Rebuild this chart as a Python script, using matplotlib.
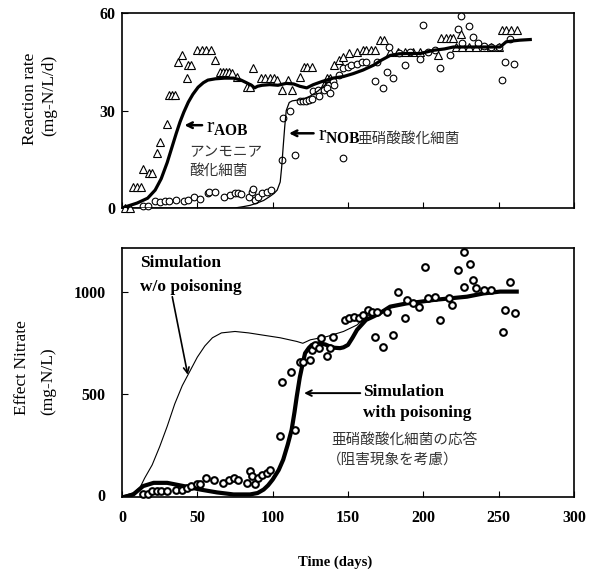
import numpy as np
import matplotlib
matplotlib.use('Agg')
import matplotlib.pyplot as plt

plt.rcParams['font.family'] = ['Liberation Serif', 'Noto Sans CJK JP']
plt.rcParams['mathtext.fontset'] = 'custom'
plt.rcParams['mathtext.rm'] = 'Liberation Serif'
plt.rcParams['mathtext.bf'] = 'Liberation Serif:bold'
plt.rcParams['mathtext.it'] = 'Liberation Serif:italic'

# --- top panel : reaction rates ---
# triangles : AOB measured
aob_day = [2, 5, 7.5, 10, 12.5, 14, 18, 20, 23, 25, 30, 31, 33, 35, 37, 40, 43, 44, 46,
           50, 53, 56, 59, 62, 65, 67, 69, 71, 73, 76, 83, 85, 87, 92, 95, 98, 101, 103,
           106, 110, 113, 118, 121, 123, 126, 134, 136, 138, 141, 144, 147, 151, 156,
           160, 162, 165, 168, 171, 174, 178, 183, 188, 193, 198, 210, 212, 215, 218,
           220, 225, 222, 226, 230, 235, 240, 245, 250, 252, 255, 258, 262]
aob_obs = [0, 0, 6.6, 6.6, 6.6, 12, 10.7, 10.7, 17, 20.4, 26, 34.8, 34.8, 34.8, 45, 47, 40,
           44, 44, 48.6, 48.6, 48.6, 48.6, 45.5, 42, 42, 42, 42, 41.5, 40.4, 37.3, 37.3,
           43, 40, 40, 40, 40, 39.5, 36.5, 39.4, 36.3, 40.2, 43.5, 43.5, 43.5, 37.8, 40,
           40, 44, 45.5, 46.5, 47.6, 48, 48.6, 48.6, 48.6, 48.6, 51.7, 51.7, 48, 48, 48,
           48, 48, 47, 52.5, 52.5, 52.5, 52.5, 53.7, 49.6, 49.6, 49.6, 49.6, 49.6, 49.6,
           49.6, 54.8, 54.8, 54.8, 54.8]

# circles : NOB measured
nob_day = [14, 17.5, 22, 25, 28.5, 31, 36, 41, 44, 48, 52, 57, 58, 62, 68, 72, 75, 77, 79,
           84, 86, 87, 88, 90, 93, 96, 99, 106, 107, 111.5, 115, 118, 120, 122, 124, 126,
           127, 130, 131, 134, 136, 138, 140, 141, 144, 147, 150, 152, 156, 159, 162,
           169, 147, 168, 173, 176, 180, 177, 184, 188, 191, 198, 203, 208, 200, 211,
           218, 223, 225, 230, 226, 233, 236, 240, 245, 250, 257.5, 254, 260, 252]
nob_obs = [0.6, 0.6, 2, 1.7, 2, 2, 2.5, 2, 2.5, 3.5, 2.7, 4.5, 4.8, 5, 3.5, 4, 4.7, 4.5,
           4.2, 3.5, 5, 5.7, 2.5, 3.5, 4.5, 5, 5.5, 14.8, 27.6, 30, 16.3, 33, 33, 33,
           33.2, 33.5, 36, 36.5, 34.5, 36.5, 37, 35.5, 39, 38, 41, 43, 43.5, 44, 44.5,
           45, 45, 45, 15.3, 39, 37, 42, 40, 49.6, 47.6, 44, 48, 46, 48, 48.6, 56.3, 43,
           47, 55, 59, 56, 50.7, 52.7, 50.7, 50, 49.6, 49.6, 52.2, 45, 44.5, 39.4]

# simulated AOB rate (thick)
aob_sim_day = [0, 2, 10, 17, 22, 26, 30, 33, 36, 38.5, 41, 44, 47, 50.5, 54, 57, 62, 68,
               74, 79, 83, 86, 88, 90, 93, 98, 103.5, 109, 114, 118, 122.6, 127, 133,
               140, 147, 153.5, 160, 167, 172, 178, 184, 189, 198, 207, 214, 220, 229,
               240, 251, 255, 260, 264, 271]
aob_sim = [0, 0.3, 1.5, 3, 5.5, 9, 14, 18.5, 23, 26.5, 29.5, 32.6, 35, 37.2, 38.6, 39.4,
           39.8, 40, 40, 39.4, 38.5, 37.8, 37, 37.5, 37.8, 38, 37.8, 38.4, 38.2, 37.5,
           37, 38, 39, 40, 40.5, 41.4, 42.5, 44, 45.5, 47, 47.5, 47.6, 47.6, 48.6, 49,
           49.6, 49.6, 49.6, 49.6, 51.2, 51.5, 51.7, 51.9]

# simulated NOB rate (thin)
nob_sim_day = [0, 40, 60, 75, 80.5, 85, 89, 94, 98, 101, 103, 105, 106, 107, 108, 109,
               111, 113, 116, 120, 125, 130, 135, 140]
nob_sim = [0, 0, 0, 0, 0.4, 0.8, 1.4, 2.3, 3.5, 4.5, 5.5, 8, 12.7, 19, 25, 30, 32.5, 33,
           33.2, 33.5, 34.5, 36, 38, 40]

# --- bottom panel : effluent nitrate ---
no3_day = [14, 17.5, 19.7, 23, 26, 30, 36, 40, 43, 46, 49.5, 52, 56, 61, 67, 71, 74, 77,
           83, 85, 86, 88, 90, 93, 96, 98, 105, 106, 112, 115, 118, 120, 125, 126, 128,
           132, 131, 136, 138, 140, 148, 151, 154, 157, 160, 163, 166, 169, 176, 168,
           173, 180, 183, 188, 189, 193, 197, 203, 208, 201, 211, 217, 219, 223, 227,
           231, 227, 233, 235, 240, 245, 257.5, 253, 254, 261]
no3_obs = [5, 5, 21, 21, 21, 21, 29, 29, 37, 46, 54, 54, 87, 78, 62, 78, 87, 78, 62, 119,
           95, 54, 87, 103, 111, 127, 291, 560, 605, 323, 658, 658, 667, 716, 740, 773,
           725, 683, 724, 781, 863, 871, 879, 871, 887, 912, 904, 904, 904, 781, 732,
           789, 1002, 871, 960, 944, 928, 969, 977, 1124, 863, 969, 936, 1108, 1198,
           1140, 1026, 1059, 1018, 1010, 1010, 1050, 805, 912, 895]

nopois_day = [0, 7.5, 12, 15, 20, 25, 30, 35, 40, 45, 50, 55, 60, 66, 75, 84, 92.7, 105,
              116, 120, 125, 136, 147, 156, 162, 173.5, 184.5, 190]
nopois = [-3, 13, 40, 85, 150, 240, 340, 450, 540, 610, 680, 735, 775, 799, 806, 799,
          789, 775, 757, 748, 765, 781, 806, 838, 879, 912, 936, 944]

pois_day = [0, 3, 7.5, 14, 21, 30, 41, 52, 63, 74, 85, 90, 94, 97, 100, 104, 107, 110,
            112.6, 114.5, 116, 118, 120, 121.5, 124, 126, 131, 135, 138, 141, 144.7, 147,
            150, 153, 156, 162, 167, 171, 178, 189, 198, 207, 218, 229, 240, 251, 262]
pois = [-10, -5, 5, 46, 62, 62, 46, 29, 15, 5, 5, 12, 29, 50, 78, 125, 176, 250, 323, 410,
        487, 580, 650, 699, 725, 740, 748, 742, 732, 726, 724, 728, 740, 775, 814, 863,
        880, 895, 928, 944, 952, 961, 969, 977, 993, 1002, 1002]

x_ticks = [0, 50, 100, 150, 200, 250, 300]

fig = plt.figure(figsize=(5.97, 5.76), dpi=100)
ax1 = fig.add_axes([0.2044, 0.639, 0.757, 0.338])
ax2 = fig.add_axes([0.2044, 0.137, 0.757, 0.432])

# top
ax1.plot(aob_day, aob_obs, linestyle='none', marker='^', markersize=6, mfc='white',
         mec='black', mew=0.8, clip_on=False, zorder=3)
ax1.plot(nob_day, nob_obs, linestyle='none', marker='o', markersize=4.8, mfc='white',
         mec='black', mew=0.8, clip_on=False, zorder=3)
ax1.plot(nob_sim_day, nob_sim, color='black', lw=0.9, zorder=4)
ax1.plot(aob_sim_day, aob_sim, color='black', lw=2.3, zorder=4)
ax1.set_xlim(0, 300)
ax1.set_ylim(0, 60)
ax1.set_yticks([0, 30, 60])
ax1.set_xticks(x_ticks)
ax1.set_xticklabels([])
ax1.tick_params(axis='y', direction='in', length=4, pad=5, labelsize=11.5)
ax1.tick_params(axis='x', direction='in', length=4)

ax1.annotate('', xy=(39.6, 25.5), xytext=(55, 25.5),
             arrowprops=dict(arrowstyle='->', lw=1.8, color='black'))
ax1.text(56, 23.3, r'r$_{\mathbf{AOB}}$', fontsize=16, va='baseline', ha='left')
ax1.text(44.5, 17.2, 'アンモニア', family='Noto Sans CJK JP', fontsize=10.5,
         color='#333333', va='center', ha='left')
ax1.text(44.5, 11.5, '酸化細菌', family='Noto Sans CJK JP', fontsize=10.5,
         color='#333333', va='center', ha='left')
ax1.annotate('', xy=(109, 23), xytext=(129, 23),
             arrowprops=dict(arrowstyle='->', lw=1.8, color='black'))
ax1.text(130, 20.8, r'r$_{\mathbf{NOB}}$', fontsize=16, va='baseline', ha='left')
ax1.text(156.5, 21.4, '亜硝酸酸化細菌', family='Noto Sans CJK JP', fontsize=10.5,
         color='#333333', va='center', ha='left')

# bottom
ax2.plot(nopois_day, nopois, color='black', lw=0.8, zorder=2)
ax2.plot(pois_day, pois, color='black', lw=3, zorder=3)
ax2.plot(no3_day, no3_obs, linestyle='none', marker='o', markersize=4.8, mfc='white',
         mec='black', mew=1.5, clip_on=False, zorder=4)
ax2.set_xlim(0, 300)
ax2.set_ylim(-8, 1215)
ax2.set_yticks([0, 500, 1000])
ax2.set_xticks(x_ticks)
ax2.tick_params(axis='y', direction='in', length=4, pad=12, labelsize=11.5)
ax2.tick_params(axis='x', direction='in', length=4, pad=9, labelsize=11.5)

ax2.text(12, 1142, 'Simulation', fontsize=12.5, fontweight='bold', va='center')
ax2.text(12, 1025, 'w/o poisoning', fontsize=12.5, fontweight='bold', va='center')
ax2.annotate('', xy=(44, 580), xytext=(33, 990),
             arrowprops=dict(arrowstyle='->', lw=1.2, color='black'))
ax2.text(160, 510, 'Simulation', fontsize=12.5, fontweight='bold', va='center')
ax2.text(160, 407, 'with poisoning', fontsize=12.5, fontweight='bold', va='center')
ax2.annotate('', xy=(119, 503), xytext=(160, 503),
             arrowprops=dict(arrowstyle='->', lw=1.4, color='black'))
ax2.text(139, 275, '亜硝酸酸化細菌の応答', family='Noto Sans CJK JP', fontsize=10.5,
         color='#333333', va='center', ha='left')
ax2.text(136, 176, '（阻害現象を考慮）', family='Noto Sans CJK JP', fontsize=10.5,
         color='#333333', va='center', ha='left')

for ax in (ax1, ax2):
    for s in ax.spines.values():
        s.set_linewidth(1.2)
    for lab in ax.get_yticklabels() + ax.get_xticklabels():
        lab.set_fontweight('bold')

# axis titles
fig.text(30 / 597, 1 - 99 / 576, 'Reaction rate', rotation=90, fontsize=12.5,
         ha='center', va='center')
fig.text(49 / 597, 1 - 95 / 576, '(mg-N/L/d)', rotation=90, fontsize=12.5,
         ha='center', va='center')
fig.text(22 / 597, 1 - 415 / 576, 'Effect Nitrate', rotation=90, fontsize=12.5,
         ha='center', va='bottom')
fig.text(48 / 597, 1 - 415 / 576, '(mg-N/L)', rotation=90, fontsize=12.5,
         ha='center', va='bottom')
fig.text(335 / 597, 1 - 562 / 576, 'Time (days)', fontsize=10.5, fontweight='bold',
         ha='center', va='center')

fig.savefig('out.png', dpi=100)
